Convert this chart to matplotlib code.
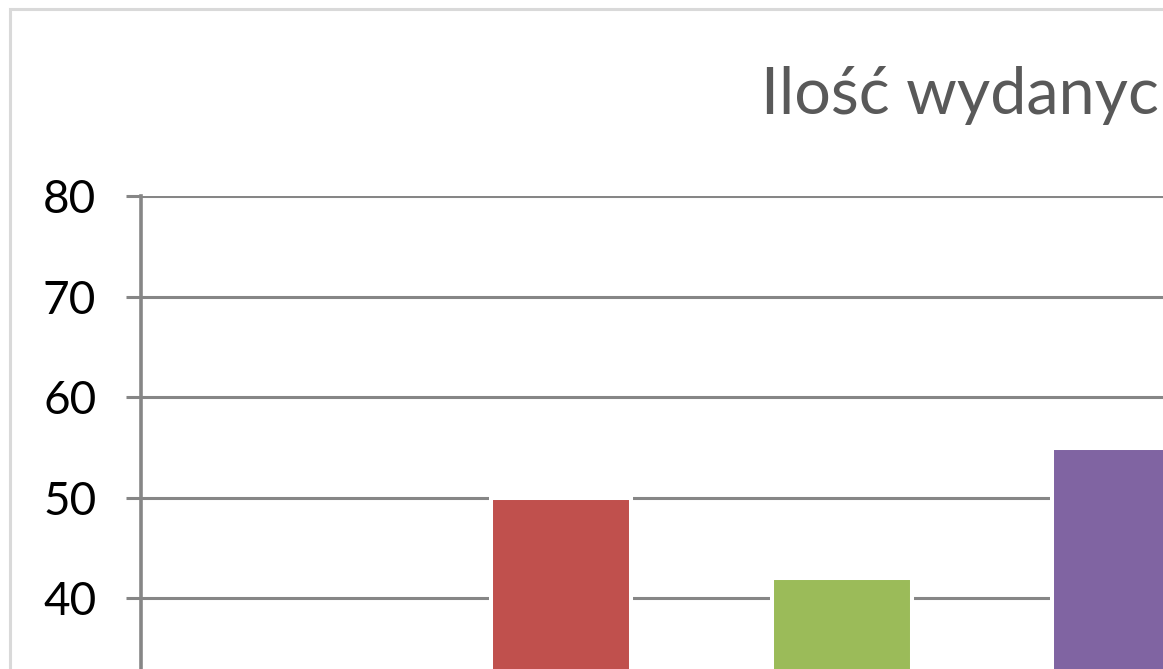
import matplotlib.pyplot as plt
from matplotlib.patches import Rectangle

# data (first bar sits below the visible part)
categories = ['A', 'B', 'C', 'D']
values = [30, 50, 42, 55]
colors = ['#4F81BD', '#C0504D', '#9BBB59', '#8064A2']
yticks = [0, 10, 20, 30, 40, 50, 60, 70, 80]
title = 'Ilość wydanych książek'

W, H = 1163, 669
plt.rcParams['font.family'] = ['Lato', 'DejaVu Sans']

fig = plt.figure(figsize=(W / 100, H / 100), dpi=100)

# chart area border (only top/left visible in the crop)
fig.add_artist(Rectangle((9.5 / W, -1.0), 2.0, 1.0 - 8.5 / H + 1.0,
                         transform=fig.transFigure, fill=False,
                         edgecolor='#D9D9D9', linewidth=2.2))

# axes placed so the visible part matches the cropped reference
left, top = 140.5, 196.3
slot = 280.5
unit = 10.05
bottom = top + 80 * unit
ax = fig.add_axes([left / W, 1 - bottom / H, len(categories) * slot / W, (bottom - top) / H])

x = range(len(categories))
ax.bar(x, values, width=0.5, color=colors, edgecolor='white', linewidth=2.9, zorder=3)

ax.set_xlim(-0.5, len(categories) - 0.5)
ax.set_ylim(0, 80)
ax.set_yticks(yticks)
ax.set_xticks([])
ax.yaxis.grid(True, color='#868686', linewidth=2.2)
ax.set_axisbelow(True)

for s in ['top', 'right', 'bottom']:
    ax.spines[s].set_visible(False)
ax.spines['left'].set_color('#868686')
ax.spines['left'].set_linewidth(2.6)
ax.tick_params(axis='y', length=10.8, width=2.2, color='#868686',
               labelsize=33, labelcolor='black', pad=21)

fig.text(761 / W, 1 - 114 / H, title, fontsize=46.5, color='#595959',
         ha='left', va='baseline')

fig.savefig('out.png', dpi=100)
